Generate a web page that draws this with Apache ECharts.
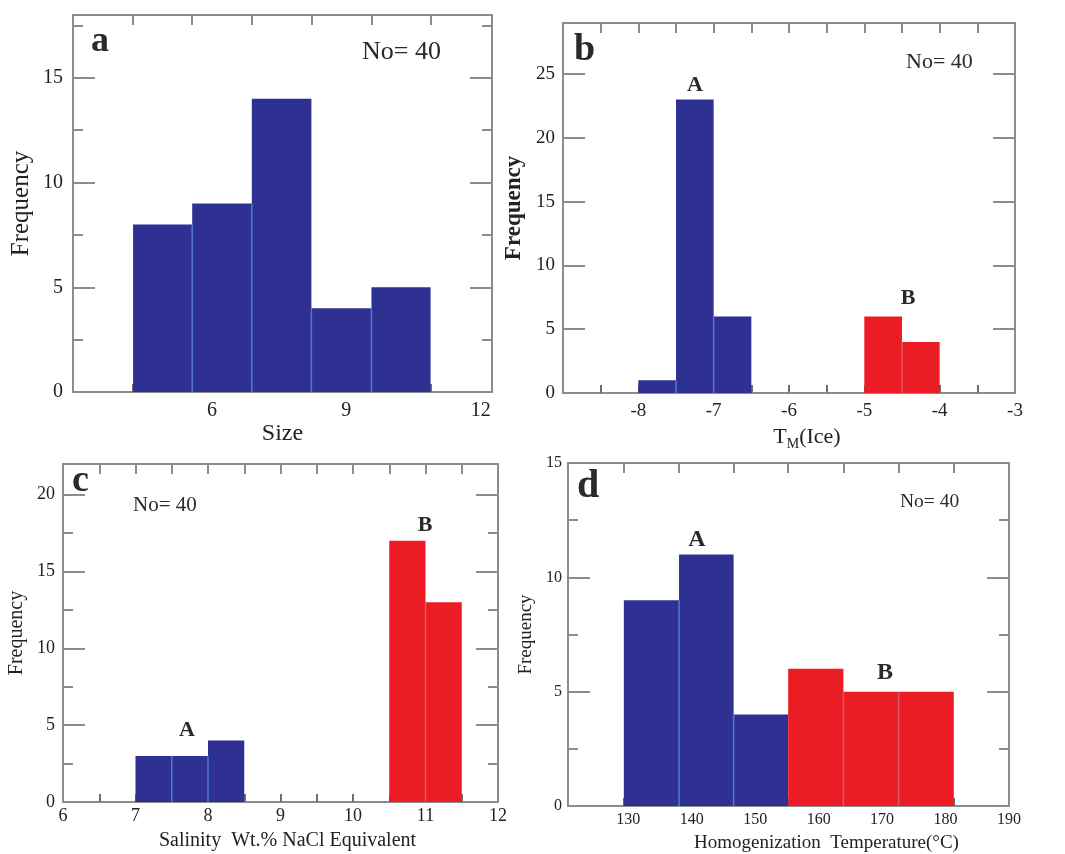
<!DOCTYPE html>
<html>
<head>
<meta charset="utf-8">
<script src="https://cdn.jsdelivr.net/npm/echarts@6/dist/echarts.min.js"></script>
<style>
  html, body { margin: 0; padding: 0; background: #fff; }
  #main { width: 1065px; height: 854px; }
</style>
</head>
<body>
<div id="main"></div>
<script>
// a - inclusion size
var sizeEdges = [4.24, 5.56, 6.89, 8.22, 9.56, 10.88];
var sizeCounts = [8, 9, 14, 4, 5];
var sizeLabels = [6, 9, 12];

// b - TM(ice)
var iceEdgesA = [-8, -7.5, -7, -6.5];
var iceCountsA = [1, 23, 6];
var iceEdgesB = [-5, -4.5, -4];
var iceCountsB = [6, 4];
var iceLabels = [-8, -7, -6, -5, -4, -3];
var iceTicks = [-8.5, -8, -7.5, -7, -6.5, -6, -5.5, -5, -4.5, -4, -3.5];

// c - salinity
var salEdgesA = [7, 7.5, 8, 8.5];
var salCountsA = [3, 3, 4];
var salEdgesB = [10.5, 11, 11.5];
var salCountsB = [17, 13];
var salLabels = [6, 7, 8, 9, 10, 11, 12];
var salTicks = [6.5, 7, 7.5, 8, 8.5, 9, 9.5, 10, 10.5, 11, 11.5];

// d - homogenization temperature
var thEdgesA = [129.3, 138.0, 146.6, 155.2];
var thCountsA = [9, 11, 4];
var thEdgesB = [155.2, 163.9, 172.6, 181.3];
var thCountsB = [6, 5, 5];
var thLabels = [130, 140, 150, 160, 170, 180, 190];

var BLUE = '#2e3192', BLUE_SEP = '#4f78d2';
var RED = '#ec1c24', RED_SEP = '#d95a60';
var FRAME = '#8c8c8c';
var SERIF = "'Liberation Serif', 'Times New Roman', serif";
var INK = '#222';

function binData(edges, counts) {
  var out = [];
  for (var i = 0; i < counts.length; i++) {
    out.push([edges[i], edges[i + 1], counts[i], i > 0 ? counts[i - 1] : 0]);
  }
  return out;
}

function histItem(fill, sep) {
  return function (params, api) {
    var x0 = api.value(0), x1 = api.value(1), c = api.value(2), prev = api.value(3);
    var tl = api.coord([x0, c]);
    var br = api.coord([x1, 0]);
    var kids = [{
      type: 'rect',
      shape: { x: tl[0], y: tl[1], width: br[0] - tl[0], height: br[1] - tl[1] },
      style: { fill: fill }
    }];
    if (prev > 0) {
      var top = api.coord([x0, Math.min(prev, c)]);
      kids.push({
        type: 'line',
        shape: { x1: tl[0], y1: top[1], x2: tl[0], y2: br[1] },
        style: { stroke: sep, lineWidth: 1.5 }
      });
    }
    return { type: 'group', children: kids };
  };
}

function histSeries(p, edges, counts, fill, sep) {
  return {
    type: 'custom',
    xAxisIndex: 2 * p,
    yAxisIndex: 2 * p,
    renderItem: histItem(fill, sep),
    encode: { x: [0, 1], y: 2 },
    data: binData(edges, counts),
    silent: true
  };
}

function xPair(p, min, max, labels, ticks, fs, margin, name, nameGap, nameStyle) {
  var line = { show: true, onZero: false, lineStyle: { color: FRAME, width: 2 } };
  return [{
    gridIndex: p, type: 'value', position: 'bottom', min: min, max: max,
    axisLine: line,
    axisTick: { inside: true, length: 8, customValues: ticks, lineStyle: { color: '#6e6e6e', width: 2 } },
    axisLabel: { customValues: labels, fontSize: fs, fontFamily: SERIF, color: INK, margin: margin },
    splitLine: { show: false },
    name: name, nameLocation: 'middle', nameGap: nameGap,
    nameTextStyle: nameStyle
  }, {
    gridIndex: p, type: 'value', position: 'top', min: min, max: max,
    axisLine: line,
    axisTick: { inside: true, length: 10, customValues: ticks, lineStyle: { color: FRAME, width: 2 } },
    axisLabel: { show: false },
    splitLine: { show: false }
  }];
}

function yPair(p, max, minor, fs, margin, nameSize, nameGap, bold) {
  var line = { show: true, onZero: false, lineStyle: { color: FRAME, width: 2 } };
  var tick = { inside: true, length: 22, lineStyle: { color: FRAME, width: 2 } };
  var mtick = { show: minor, splitNumber: 2, length: 10, lineStyle: { color: FRAME, width: 2 } };
  return [{
    gridIndex: p, type: 'value', position: 'left', min: 0, max: max, interval: 5,
    axisLine: line, axisTick: tick, minorTick: mtick,
    axisLabel: {
      fontSize: fs, fontFamily: SERIF, color: INK, margin: margin,
      formatter: function (v) { return v % 5 === 0 ? String(v) : ''; }
    },
    splitLine: { show: false },
    name: 'Frequency', nameLocation: 'middle', nameRotate: 90, nameGap: nameGap,
    nameTextStyle: { fontSize: nameSize, fontFamily: SERIF, color: INK, fontWeight: bold ? 'bold' : 'normal' }
  }, {
    gridIndex: p, type: 'value', position: 'right', min: 0, max: max, interval: 5,
    axisLine: line, axisTick: tick, minorTick: mtick,
    axisLabel: { show: false },
    splitLine: { show: false }
  }];
}

function txt(x, y, s, size, bold, align) {
  return {
    type: 'text', x: x, y: y, silent: true,
    style: {
      text: s, fill: '#2a2a2a', align: align || 'center', verticalAlign: 'middle',
      font: (bold ? 'bold ' : '') + size + 'px ' + SERIF
    }
  };
}

var xa = xPair(0, 2.9, 12.25, sizeLabels, sizeEdges, 20, 9, 'Size', 28,
  { fontSize: 24, fontFamily: SERIF, color: INK, padding: [0, 0, 0, 0] });
var xb = xPair(1, -9, -3, iceLabels, iceTicks, 19, 9, '{t|T}{s|M}{t|(Ice)}', 30, {
  padding: [0, 0, 0, 36],
  rich: {
    t: { fontSize: 22, fontFamily: SERIF, color: INK, lineHeight: 28, verticalAlign: 'middle' },
    s: { fontSize: 14, fontFamily: SERIF, color: INK, lineHeight: 14, verticalAlign: 'bottom' }
  }
});
var xc = xPair(2, 6, 12, salLabels, salTicks, 18, 5, 'Salinity  Wt.% NaCl Equivalent', 29,
  { fontSize: 20, fontFamily: SERIF, color: INK, padding: [0, 0, 0, 14] });
var xd = xPair(3, 120.5, 190, thLabels, thEdgesA.concat(thEdgesB.slice(1)), 16, 6,
  'Homogenization  Temperature(\u00b0C)', 28,
  { fontSize: 19, fontFamily: SERIF, color: INK, padding: [0, 0, 0, 76] });

var ya = yPair(0, 18, true, 20, 10, 25, 39, false);
var yb = yPair(1, 29, false, 19, 8, 23, 37, true);
var yc = yPair(2, 22, true, 18, 8, 20, 36, false);
var yd = yPair(3, 15, true, 16, 6, 19, 32, false);

var option = {
  animation: false,
  backgroundColor: '#fff',
  grid: [
    { left: 73, top: 15, width: 419, height: 377 },
    { left: 563, top: 23, width: 452, height: 370 },
    { left: 63, top: 464, width: 435, height: 338 },
    { left: 568, top: 463, width: 441, height: 344 }
  ],
  xAxis: xa.concat(xb, xc, xd),
  yAxis: ya.concat(yb, yc, yd),
  series: [
    histSeries(0, sizeEdges, sizeCounts, BLUE, BLUE_SEP),
    histSeries(1, iceEdgesA, iceCountsA, BLUE, BLUE_SEP),
    histSeries(1, iceEdgesB, iceCountsB, RED, RED_SEP),
    histSeries(2, salEdgesA, salCountsA, BLUE, BLUE_SEP),
    histSeries(2, salEdgesB, salCountsB, RED, RED_SEP),
    histSeries(3, thEdgesA, thCountsA, BLUE, BLUE_SEP),
    histSeries(3, thEdgesB, thCountsB, RED, RED_SEP)
  ],
  graphic: [
    txt(91, 42, 'a', 36, true, 'left'),
    txt(362, 52, 'No= 40', 26, false, 'left'),
    txt(574, 50, 'b', 38, true, 'left'),
    txt(906, 62, 'No= 40', 22, false, 'left'),
    txt(695, 85, 'A', 22, true),
    txt(908, 298, 'B', 22, true),
    txt(72, 481, 'c', 38, true, 'left'),
    txt(133, 505, 'No= 40', 21, false, 'left'),
    txt(187, 730, 'A', 22, true),
    txt(425, 525, 'B', 22, true),
    txt(577, 487, 'd', 40, true, 'left'),
    txt(900, 502, 'No= 40', 19.5, false, 'left'),
    txt(697, 540, 'A', 24, true),
    txt(885, 673, 'B', 24, true)
  ]
};

var chart = echarts.init(document.getElementById('main'), null, { renderer: 'canvas' });
chart.setOption(option);
</script>
</body>
</html>
